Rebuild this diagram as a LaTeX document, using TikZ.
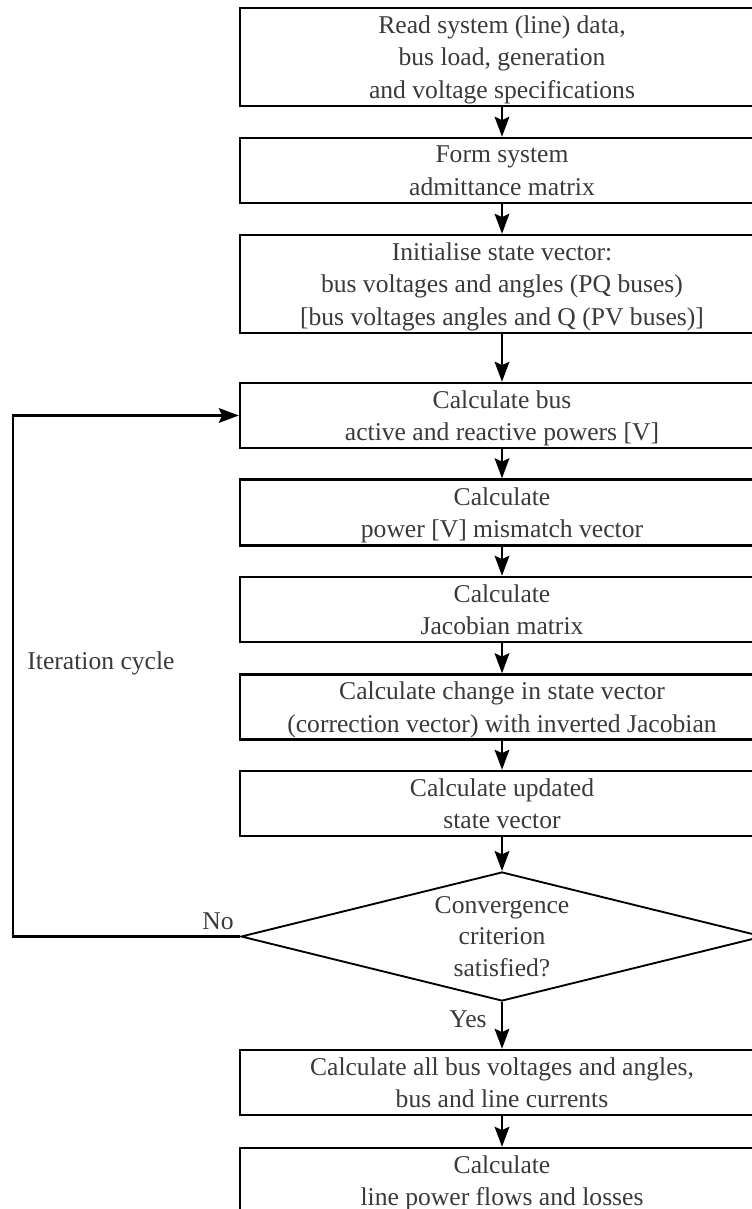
\documentclass[tikz,border=0pt]{standalone}
\usepackage{fontspec}
\setmainfont{Liberation Serif}
\usetikzlibrary{shapes.geometric,arrows.meta}
\definecolor{ink}{RGB}{58,58,58}
\tikzset{
  stepbox/.style={draw=black, line width=1.8pt, fill=white, inner sep=0pt,
    minimum width=393pt, align=center, text=ink, text depth=0pt,
    font=\fontsize{19.2pt}{24.4pt}\selectfont},
  decision/.style={diamond, aspect=4.05, draw=black, line width=1.4pt, inner sep=0pt,
    minimum width=391.5pt, minimum height=96.75pt, align=center, text=ink,
    text depth=0pt, font=\fontsize{19.2pt}{23.3pt}\selectfont},
  flow/.style={line width=2pt, -{Stealth[length=15pt,width=11pt,inset=2.5pt]}},
  lbl/.style={text=ink, inner sep=0pt, font=\fontsize{19.2pt}{22pt}\selectfont}
}
\begin{document}
\begin{tikzpicture}[x=0.75pt, y=-0.75pt]
\useasboundingbox (0,0) rectangle (752,1209);
\clip (0,0) rectangle (752,1209);

% process boxes
\node[stepbox, minimum height=73.5pt] (b1) at (502,57)
  {Read system (line) data,\\bus load, generation\\and voltage specifications};
\node[stepbox, minimum height=48.75pt] (b2) at (502,170.5)
  {Form system\\admittance matrix};
\node[stepbox, minimum height=73.5pt] (b3) at (502,284)
  {Initialise state vector:\\bus voltages and angles (PQ buses)\\{[}bus voltages angles and Q (PV buses){]}};
\node[stepbox, minimum height=48.75pt] (b4) at (502,415.5)
  {Calculate bus\\active and reactive powers {[}V{]}};
\node[stepbox, minimum height=49.5pt] (b5) at (502,512.5)
  {Calculate\\power {[}V{]} mismatch vector};
\node[stepbox, minimum height=48.75pt] (b6) at (502,609.5)
  {Calculate\\Jacobian matrix};
\node[stepbox, minimum height=48.75pt] (b7) at (502,707)
  {Calculate change in state vector\\(correction vector) with inverted Jacobian};
\node[stepbox, minimum height=48.75pt] (b8) at (502,803.5)
  {Calculate updated\\state vector};
\node[decision] (d) at (502,936.5)
  {Convergence\\criterion\\satisfied?};
\node[stepbox, minimum height=48.75pt] (b9) at (502,1082.5)
  {Calculate all bus voltages and angles,\\bus and line currents};
\node[stepbox, minimum height=48.75pt] (b10) at (502,1180.5)
  {Calculate\\line power flows and losses};

% labels
\node[lbl] (no) at (218,921) {No};
\node[lbl] (yes) at (468,1019) {Yes};
\node[lbl] (iter) at (101,663) {Iteration cycle};

% connectors
\draw[flow] (b1.south) -- (b2.north);
\draw[flow] (b2.south) -- (b3.north);
\draw[flow] (b3.south) -- (b4.north);
\draw[flow] (b4.south) -- (b5.north);
\draw[flow] (b5.south) -- (b6.north);
\draw[flow] (b6.south) -- (b7.north);
\draw[flow] (b7.south) -- (b8.north);
\draw[flow] (b8.south) -- (d.north);
\draw[flow] (d.south) -- (b9.north);
\draw[flow] (b9.south) -- (b10.north);
\coordinate (loop) at (13,936.5);
\draw[flow] (d.west) -- (loop) |- (b4.west);
\end{tikzpicture}
\end{document}
